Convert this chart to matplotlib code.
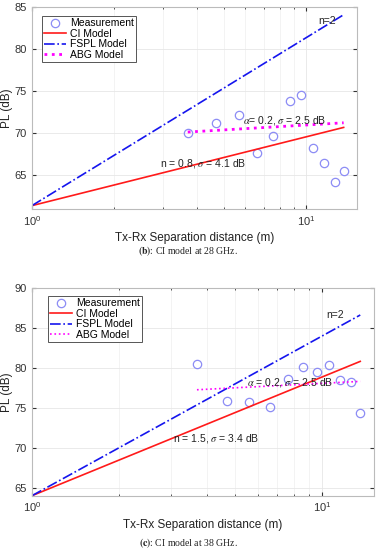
import matplotlib
matplotlib.use("Agg")
import matplotlib.pyplot as plt
from matplotlib.ticker import LogLocator, NullFormatter, FixedLocator

plt.rcParams['font.family'] = ['Liberation Sans', 'DejaVu Sans']
plt.rcParams['mathtext.fontset'] = 'stix'

# ---- 28 GHz data ----
d28 = [3.7, 4.7, 5.7, 6.6, 7.6, 8.7, 9.6, 10.6, 11.6, 12.7, 13.7]
pl28 = [70.0, 71.2, 72.2, 67.6, 69.7, 73.8, 74.5, 68.2, 66.5, 64.2, 65.5]
line_d28 = [1.0, 13.7]
ci28 = [61.4, 70.7]
fspl28 = [61.4, 84.1]
abg_d28 = [3.7, 13.7]
abg28 = [70.15, 71.25]

# ---- 38 GHz data ----
d38 = [3.7, 4.7, 5.6, 6.6, 7.6, 8.6, 9.6, 10.5, 11.5, 12.5, 13.5]
pl38 = [80.5, 75.8, 75.7, 75.1, 78.6, 80.1, 79.5, 80.4, 78.5, 78.2, 74.3]
line_d38 = [1.0, 13.5]
ci38 = [64.0, 80.8]
fspl38 = [64.0, 86.6]
abg_d38 = [3.7, 13.5]
abg38 = [77.25, 78.3]

yticks28 = [65, 70, 75, 80, 85]
yticks38 = [65, 70, 75, 80, 85, 90]
legend_labels = ['Measurement', 'CI Model', 'FSPL Model', 'ABG Model']

W, H = 380, 550
fig = plt.figure(figsize=(W / 100, H / 100), dpi=100)

def make_ax(rect, d, pl, ld, ci, fs, ad, abg, ylim, xmax, yticks, abg_lw, texts, leg_pos):
    ax = fig.add_axes(rect)
    ax.set_xscale('log')
    ax.plot(d, pl, 'o', mfc='none', mec='#8c8cf5', ms=6, mew=0.9, label=legend_labels[0])
    ax.plot(ld, ci, '-', color='#ff1a1a', lw=1.2, label=legend_labels[1])
    ax.plot(ld, fs, '-.', color='#1515ee', lw=1.2, label=legend_labels[2])
    ax.plot(ad, abg, ':', color='#ff00ff', lw=abg_lw, label=legend_labels[3])
    ax.set_xlim(1, xmax)
    ax.set_ylim(*ylim)
    ax.yaxis.set_major_locator(FixedLocator(yticks))
    ax.xaxis.set_major_locator(LogLocator(base=10))
    ax.xaxis.set_minor_locator(LogLocator(base=10, subs=range(2, 10)))
    ax.xaxis.set_minor_formatter(NullFormatter())
    ax.grid(True, which='major', color='#e6e6e6', lw=0.6)
    ax.grid(True, which='minor', axis='x', color='#eeeeee', lw=0.5)
    ax.set_axisbelow(True)
    ax.tick_params(which='both', direction='in', top=True, right=True,
                   labelsize=8, colors='#333333', length=3)
    ax.tick_params(which='minor', length=1.5)
    for s in ax.spines.values():
        s.set_color('#bbbbbb')
        s.set_linewidth(0.8)
    ax.set_ylabel('PL (dB)', fontsize=8.5, labelpad=1, color='#222222')
    ax.set_xlabel('Tx-Rx Separation distance (m)', fontsize=8.5, labelpad=3, color='#222222')
    for (tx, ty, s) in texts:
        ax.text(tx, ty, s, fontsize=7.5, va='center', ha='left', color='#222222')
    leg = ax.legend(loc='upper left', bbox_to_anchor=leg_pos, fontsize=7.5, frameon=True,
                    fancybox=False, edgecolor='#555555', framealpha=1, borderpad=0.2,
                    labelspacing=0.05, handlelength=2.1, handletextpad=0.4, borderaxespad=0)
    leg.get_frame().set_linewidth(0.7)
    return ax

make_ax([0.084, 0.62, 0.855, 0.367], d28, pl28, line_d28, ci28, fspl28, abg_d28, abg28,
        (61.0, 85.0), 15.3, yticks28, 2.0,
        [(11.07, 83.3, 'n=2'),
         (5.89, 71.55, r'$\alpha$= 0.2, $\sigma$ = 2.5 dB'),
         (2.93, 66.4, r'n = 0.8, $\sigma$ = 4.1 dB')],
        (0.031, 0.955))

make_ax([0.084, 0.0987, 0.899, 0.378], d38, pl38, line_d38, ci38, fspl38, abg_d38, abg38,
        (64.0, 90.0), 15.0, yticks38, 1.2,
        [(10.35, 86.6, 'n=2'),
         (5.49, 78.2, r'$\alpha$ = 0.2, $\sigma$ = 2.5 dB'),
         (3.06, 71.2, r'n = 1.5, $\sigma$ = 3.4 dB')],
        (0.047, 0.96))

cap_font = ['Liberation Serif', 'DejaVu Serif']
fig.text(0.495, 1 - 251 / H, r'$\mathbf{(b)}$: CI model at 28 GHz.', family=cap_font,
         fontsize=7, ha='center', va='center', color='#222222')
fig.text(0.495, 1 - 543 / H, r'$\mathbf{(c)}$: CI model at 38 GHz.', family=cap_font,
         fontsize=7, ha='center', va='center', color='#222222')

fig.savefig('out.png', dpi=100)
